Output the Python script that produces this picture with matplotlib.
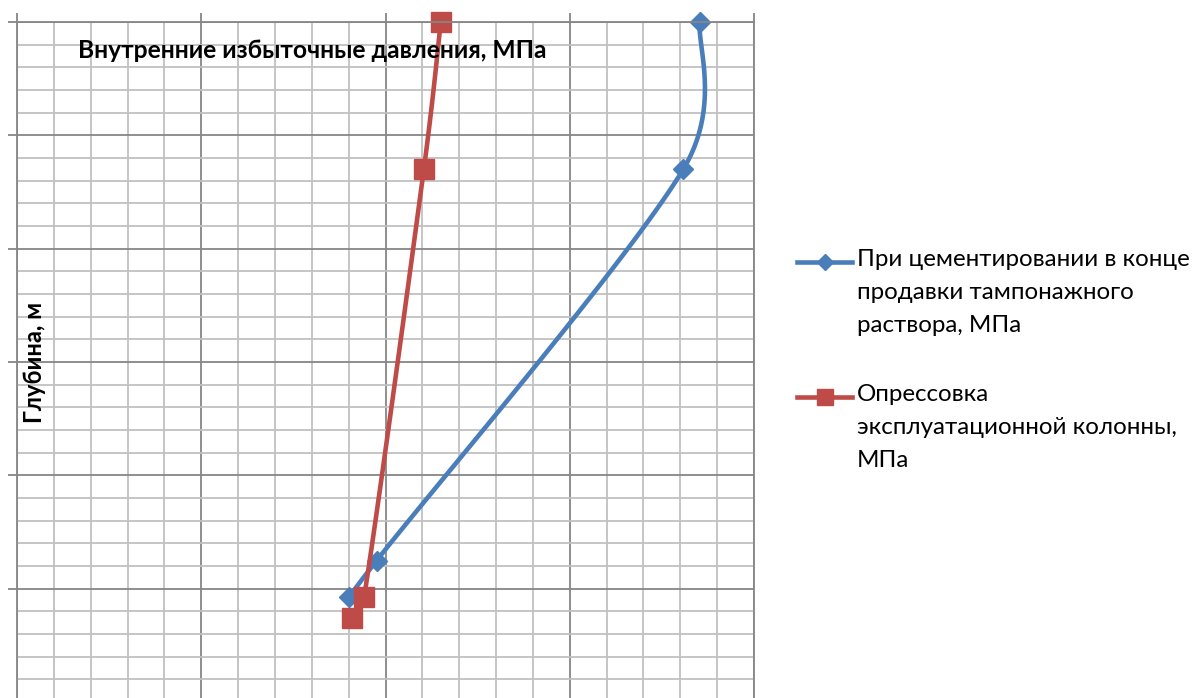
import matplotlib.pyplot as plt
import numpy as np
from matplotlib.lines import Line2D
from matplotlib.ticker import MultipleLocator

plt.rcParams['font.family'] = ['Lato', 'DejaVu Sans']

# глубина, м
depth_cem = [0, 650, 2376, 2536]
depth_test = [0, 650, 2536, 2628]
# давление, МПа
p_cem = [18.53, 18.08, 9.76, 9.01]
p_test = [11.50, 11.04, 9.42, 9.08]

lbl_cem = "При цементировании в конце\nпродавки тампонажного\nраствора, МПа"
lbl_test = "Опрессовка\nэксплуатационной колонны,\nМПа"

blue = '#4A7EBB'
red = '#BE4B48'


def smooth(ax, x, y, n=40):
    # сглаженная линия: кубические Безье, плечи считаются в пикселях
    # и ограничены половиной длины отрезка
    fig.canvas.draw()
    tr = ax.transData
    p = tr.transform(np.column_stack([x, y]).astype(float))
    p = np.vstack([p[0], p, p[-1]])
    out = []
    t = np.linspace(0, 1, n)[:, None]
    for i in range(1, len(p) - 2):
        p0, p1, p2, p3 = p[i - 1], p[i], p[i + 1], p[i + 2]
        d12 = np.hypot(*(p2 - p1))
        d02 = np.hypot(*(p2 - p0))
        d13 = np.hypot(*(p3 - p1))
        f1 = 1 / 6 if d02 / 6 < d12 / 2 else d12 / (2 * d02)
        f2 = 1 / 6 if d13 / 6 < d12 / 2 else d12 / (2 * d13)
        c1 = p1 + (p2 - p0) * f1
        c2 = p2 - (p3 - p1) * f2
        b = ((1 - t) ** 3) * p1 + 3 * ((1 - t) ** 2) * t * c1 + 3 * (1 - t) * t ** 2 * c2 + t ** 3 * p2
        out.append(b)
    out = tr.inverted().transform(np.vstack(out))
    return out[:, 0], out[:, 1]


fig = plt.figure(figsize=(11.97, 6.98), dpi=100)
ax = fig.add_axes([17 / 1197, -4 / 698, 737 / 1197, 680 / 698])

ax.set_xlim(0, 20)
ax.set_ylim(3000, 0)
ax.xaxis.set_major_locator(MultipleLocator(5))
ax.xaxis.set_minor_locator(MultipleLocator(1))
ax.yaxis.set_major_locator(MultipleLocator(500))
ax.yaxis.set_minor_locator(MultipleLocator(100))
ax.grid(which='minor', color='#C0C0C0', lw=1.3)
ax.grid(which='major', color='#868686', lw=1.3)
ax.set_axisbelow(True)
ax.xaxis.tick_top()
ax.tick_params(which='major', length=6.5, width=1.3, color='#868686',
               labeltop=False, labelbottom=False, labelleft=False)
ax.tick_params(which='minor', length=0)
for s in ax.spines.values():
    s.set_color('#868686')
    s.set_linewidth(1.3)

xs, ys = smooth(ax, p_cem, depth_cem)
ax.plot(xs, ys, color=blue, lw=3.3, clip_on=False)
ax.plot(p_cem, depth_cem, ls='none', marker='D', ms=10, color=blue, clip_on=False)
xs, ys = smooth(ax, p_test, depth_test)
ax.plot(xs, ys, color=red, lw=3.3, clip_on=False)
ax.plot(p_test, depth_test, ls='none', marker='s', ms=14, color=red, clip_on=False)

fig.text(78 / 1197, 1 - 50 / 698, "Внутренние избыточные давления, МПа",
         fontsize=17.7, fontweight='bold', va='center', ha='left')
fig.text(35 / 1197, 1 - 362 / 698, "Глубина, м", rotation=90,
         fontsize=17, fontweight='bold', va='center', ha='center')

# легенда
for yy, col, mk, ms, lbl in [(262, blue, 'D', 8, lbl_cem), (397, red, 's', 11, lbl_test)]:
    yf = 1 - yy / 698
    fig.add_artist(Line2D([797 / 1197, 852 / 1197], [yf, yf], color=col, lw=3.3,
                          transform=fig.transFigure))
    fig.add_artist(Line2D([824.5 / 1197], [yf], marker=mk, ms=ms, color=col,
                          transform=fig.transFigure))
    fig.text(857 / 1197, 1 - (yy - 13) / 698, lbl, fontsize=17.4, va='top', ha='left',
             linespacing=1.72)

fig.savefig('out.png', dpi=100)
